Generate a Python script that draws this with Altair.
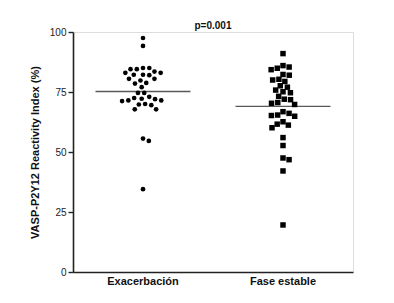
import math
import altair as alt
import pandas as pd

categories = ["Exacerbación", "Fase estable"]

exacerbacion = [
    97.5, 94.2,
    85.0, 84.5, 84.5, 85.0,
    83.0, 82.2, 82.0, 82.2, 83.0, 83.5,
    80.5, 79.8, 80.5,
    78.8, 78.5,
    77.0,
    74.6, 74.6,
    72.2, 71.5, 71.2, 71.5, 72.0, 72.5, 73.0,
    69.8, 69.5, 70.0,
    67.8, 67.8,
    55.6, 54.6, 34.5,
]

fase_estable = [
    91.0,
    86.0, 84.9, 84.3, 85.4,
    82.0, 82.3,
    80.3, 80.0, 79.4,
    77.6, 77.0,
    74.7, 73.2, 75.1, 75.8,
    71.8, 70.3, 69.8, 70.6, 72.0,
    66.8, 65.4, 64.9, 65.2, 66.1,
    62.6, 61.2, 60.1, 61.6,
    56.0, 52.7, 46.8, 47.5, 42.1, 19.6,
]

means = [75.2, 69.0]
p_text = "p=0.001"
y_title = "VASP-P2Y12 Reactivity Index (%)"

PLOT_W, PLOT_H = 280, 240
PX_PER_UNIT = PLOT_H / 100.0


def swarm_offsets(values, d=6.3):
    """Beeswarm layout: horizontal pixel offsets so markers do not overlap."""
    order = sorted(range(len(values)), key=lambda i: -values[i])
    placed = []
    offs = [0.0] * len(values)
    side = 1
    for i in order:
        y = values[i] * PX_PER_UNIT
        cands = [0.0]
        for (px, py) in placed:
            dy = abs(py - y)
            if dy < d:
                dx = math.sqrt(d * d - dy * dy)
                cands += [px + dx, px - dx]
        def ok(x):
            return all((x - px) ** 2 + (y - py) ** 2 >= d * d - 1e-6 for px, py in placed)
        valid = [c for c in cands if ok(c)]
        best = min(abs(c) for c in valid)
        choice = [c for c in valid if abs(abs(c) - best) < 1e-6]
        if len(choice) > 1:
            c = max(choice) if side > 0 else min(choice)
            side = -side
        else:
            c = choice[0]
        offs[i] = c
        placed.append((c, y))
    return offs


rows = []
for cat, vals in zip(categories, [exacerbacion, fase_estable]):
    for v, o in zip(vals, swarm_offsets(vals)):
        rows.append({"group": cat, "value": v, "off": o})
pts = pd.DataFrame(rows)
mean_df = pd.DataFrame({"group": categories, "mean": means})

FONT = "Liberation Sans"

x_enc = alt.X(
    "group:N",
    sort=categories,
    scale=alt.Scale(paddingInner=0, paddingOuter=0),
    axis=alt.Axis(
        title=None, labelAngle=0, ticks=False, labelFontWeight="bold",
        labelFontSize=11, labelColor="#111", labelPadding=9, labelAlign="center",
        bandPosition=0.5,
        domainColor="#222", domainWidth=1.6, labelFont=FONT,
    ),
)
y_enc = alt.Y(
    "value:Q",
    scale=alt.Scale(domain=[0, 100], nice=False),
    axis=alt.Axis(
        values=[0, 25, 50, 75, 100], title=y_title, grid=False,
        titleFontWeight="bold", titleFontSize=11, titleColor="#111",
        titleFont=FONT, titlePadding=9, labelFont=FONT, labelFontSize=10,
        labelColor="#222", tickSize=5, tickColor="#222", tickWidth=1.4,
        domainColor="#222", domainWidth=1.6, labelPadding=2,
    ),
)

points = alt.Chart(pts).mark_point(filled=True, opacity=1, color="black").encode(
    x=x_enc,
    xOffset=alt.XOffset("off:Q", scale=alt.Scale(domain=[-70, 70])),
    y=y_enc,
    shape=alt.Shape("group:N", sort=categories,
                    scale=alt.Scale(domain=categories, range=["circle", "square"]),
                    legend=None),
    size=alt.Size("group:N", sort=categories,
                  scale=alt.Scale(domain=categories, range=[22, 30]),
                  legend=None),
)

lines = alt.Chart(mean_df).mark_tick(size=95, thickness=1.4, color="#111").encode(
    x=alt.X("group:N", sort=categories),
    y=alt.Y("mean:Q"),
)

chart = alt.layer(lines, points).properties(
    width=PLOT_W,
    height=PLOT_H,
    title=alt.TitleParams(p_text, fontSize=10, fontWeight="bold", font=FONT,
                          color="#111", anchor="middle", offset=-4),
    autosize=alt.AutoSizeParams(type="none"),
    padding={"left": 73, "top": 32, "right": 41, "bottom": 31},
).configure_view(stroke=None).configure(background="white")

chart.save("out.html", embed_options={"renderer": "svg", "actions": False})
